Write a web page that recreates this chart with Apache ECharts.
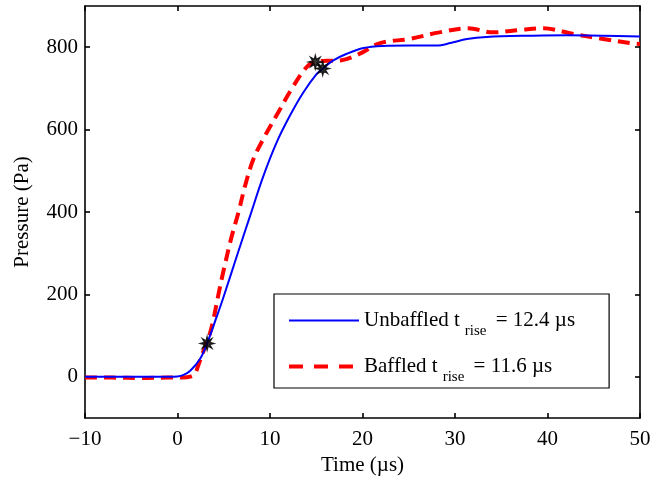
<!DOCTYPE html>
<html><head><meta charset="utf-8">
<script src="https://cdn.jsdelivr.net/npm/echarts@6/dist/echarts.min.js"></script>
<style>html,body{margin:0;padding:0;background:#fff}#c{width:652px;height:477px}</style>
</head><body><div id="c"></div>
<script>
// Unbaffled (solid blue)
const unbaffledT = [-10, -5, -1, 0, 0.6, 1.35, 2.43, 3.2, 4.24, 4.95, 6.4, 7.84, 9.28, 10.72, 12.16, 13.6, 15.05, 15.7, 16.85, 18.3, 20.1, 22.2, 25, 28, 29.5, 31.3, 33.4, 38.4, 42, 46, 50];
const unbaffledP = [0, 0, 0, 1, 4, 14, 43, 81, 146, 192, 292, 390, 487, 569, 634, 690, 735, 748, 768, 784, 798, 803, 804, 804, 810, 820, 825, 828, 829, 828, 826];
// Baffled (dashed red)
const baffledT = [-10, -7, -4, -1, 0.5, 1.5, 1.9, 2.25, 2.8, 3.5, 3.87, 4.4, 4.95, 5.86, 6.58, 7.3, 8.2, 9.46, 10.9, 12.35, 13.97, 14.9, 16.1, 17.6, 19.6, 21.9, 25.1, 28.3, 31.4, 34.1, 37.1, 39.5, 42.8, 45.7, 49.3, 50];
const baffledP = [-2, -2, -3, -2, -2, 1, 8, 28, 62, 105, 138, 197, 255, 341, 398, 463, 528, 585, 642, 699, 752, 764, 767, 768, 783, 810, 820, 836, 846, 836, 842, 846, 832, 821, 809, 808];
// Rise-time markers (10% / 90% points)
const markerT = [3.2, 14.9, 15.7];
const markerP = [81, 764, 748];
// Axis ticks
const yTicks = [0, 200, 400, 600, 800];
const legendNames = ['Unbaffled', 'Baffled'];
const riseTimes = ['12.4', '11.6'];

function asteriskPath() {
  const pts = [];
  for (let i = 0; i < 16; i++) {
    const a = Math.PI * i / 8 - Math.PI / 2;
    const r = i % 2 === 0 ? 10 : 4.2;
    pts.push((r * Math.cos(a)).toFixed(2) + ',' + (r * Math.sin(a)).toFixed(2));
  }
  return 'path://M' + pts.join(' L') + ' Z';
}

const font = 'Liberation Serif';
const fs = 21;
const chart = echarts.init(document.getElementById('c'));
const axisLine = { show: true, onZero: false, lineStyle: { color: '#000', width: 1.6 } };
const axisTick = { show: true, inside: true, length: 5, lineStyle: { color: '#000', width: 1.6 } };

chart.setOption({
  animation: false,
  backgroundColor: '#fff',
  grid: { left: 85, right: 12, top: 6, bottom: 59, containLabel: false, outerBoundsMode: 'none' },
  xAxis: [{
    type: 'value', min: -10, max: 50, interval: 10, position: 'bottom',
    axisLine: axisLine, axisTick: axisTick, splitLine: { show: false },
    axisLabel: { color: '#000', fontFamily: font, fontSize: fs, margin: 11,
      formatter: v => (v < 0 ? '\u2212' + Math.abs(v) : String(v)) },
    name: 'Time (\u00b5s)', nameLocation: 'middle', nameGap: 34,
    nameTextStyle: { color: '#000', fontFamily: font, fontSize: fs }
  }, {
    type: 'value', min: -10, max: 50, interval: 10, position: 'top',
    axisLine: axisLine, axisTick: axisTick, splitLine: { show: false },
    axisLabel: { show: false }
  }],
  yAxis: [{
    type: 'value', min: -100, max: 900, position: 'left',
    axisLine: axisLine, splitLine: { show: false },
    axisTick: Object.assign({ customValues: yTicks }, axisTick),
    axisLabel: { customValues: yTicks, color: '#000', fontFamily: font, fontSize: fs, margin: 7 },
    name: 'Pressure (Pa)', nameLocation: 'middle', nameGap: 52, nameRotate: 90,
    nameTextStyle: { color: '#000', fontFamily: font, fontSize: fs }
  }, {
    type: 'value', min: -100, max: 900, position: 'right',
    axisLine: axisLine, splitLine: { show: false },
    axisTick: Object.assign({ customValues: yTicks }, axisTick),
    axisLabel: { show: false }
  }],
  legend: {
    data: [
      { name: legendNames[0], lineStyle: { color: '#0000ff', width: 2, type: 'solid' } },
      { name: legendNames[1], lineStyle: { color: '#ff0000', width: 4, type: [14, 11] } }
    ],
    orient: 'vertical', left: 274, top: 294,
    padding: [16, 34, 3, 13],
    itemWidth: 70, itemHeight: 14, itemGap: 17,
    borderColor: '#000', borderWidth: 1.2, backgroundColor: '#fff',
    itemStyle: { opacity: 0 },
    formatter: function (name) {
      const i = legendNames.indexOf(name);
      return '{a|' + name + ' t}{s|rise}{a| = ' + riseTimes[i] + ' \u00b5s}';
    },
    textStyle: {
      color: '#000', fontFamily: font, fontSize: fs,
      rich: {
        a: { fontFamily: font, fontSize: fs, color: '#000', lineHeight: 35 },
        s: { fontFamily: font, fontSize: 15, color: '#000', padding: [22, 4, 0, 5] }
      }
    }
  },
  series: [{
    name: 'Unbaffled', type: 'line', xAxisIndex: 0, yAxisIndex: 0,
    data: unbaffledT.map((t, i) => [t, unbaffledP[i]]),
    smooth: 0.35, showSymbol: false, symbol: 'none',
    lineStyle: { color: '#0000ff', width: 2 }, itemStyle: { color: '#0000ff' }, z: 3
  }, {
    name: 'Baffled', type: 'line', xAxisIndex: 0, yAxisIndex: 0,
    data: baffledT.map((t, i) => [t, baffledP[i]]),
    smooth: 0.35, showSymbol: false, symbol: 'none',
    lineStyle: { color: '#ff0000', width: 4, type: [12, 7] }, itemStyle: { color: '#ff0000' }, z: 2
  }, {
    name: 'markers', type: 'scatter', xAxisIndex: 0, yAxisIndex: 0,
    data: markerT.map((t, i) => [t, markerP[i]]),
    symbol: asteriskPath(), symbolSize: 14,
    itemStyle: { color: '#000', borderColor: '#000', borderWidth: 1.2 }, z: 5
  }]
});
</script></body></html>
